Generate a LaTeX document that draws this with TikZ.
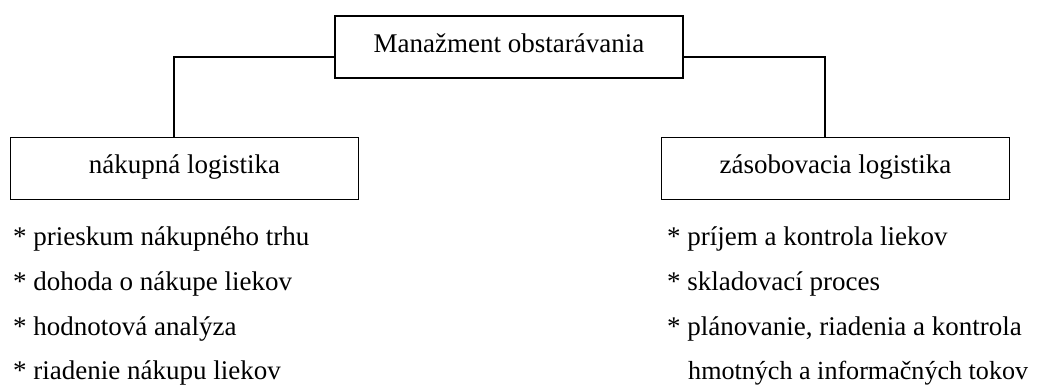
\documentclass[tikz,border=0pt]{standalone}
\usepackage{fontspec}
\setmainfont{Liberation Serif}
\usepackage{tikz}
\usetikzlibrary{calc}

\begin{document}
\begin{tikzpicture}[x=1pt, y=-1pt, every node/.style={inner sep=0pt, font=\fontsize{27}{32}\selectfont},
box/.style={draw, line width=1.8pt, minimum width=348pt, minimum height=62pt, text height=17pt, text depth=7pt},
item/.style={anchor=base west}]
\useasboundingbox (0,0) rectangle (1037,386);
\node [box] (mgmt) at (509,47) {Manažment obstarávania};
\node [box] (nakup) at (184.5,168.5) {nákupná logistika};
\node [box] (zasob) at (835.5,168.5) {zásobovacia logistika};
\draw [line width=1.4pt] ([yshift=-10pt]mgmt.west) -| ([xshift=-10.5pt]nakup.north);
\draw [line width=1.4pt] ([yshift=-10pt]mgmt.east) -| ([xshift=-10.5pt]zasob.north);
\node [item] (n1) at (13,245) {* prieskum nákupného trhu};
\node [item] (n2) at (13,290) {* dohoda o nákupe liekov};
\node [item] (n3) at (13,335) {* hodnotová analýza};
\node [item] (n4) at (13,379) {* riadenie nákupu liekov};
\node [item] (z1) at (667,245) {* príjem a kontrola liekov};
\node [item] (z2) at (667,290) {* skladovací proces};
\node [item] (z3) at (667,335) {* plánovanie, riadenia a kontrola};
\node [item, font=\fontsize{26.1}{31}\selectfont] (z4) at (688,379) {hmotných a informačných tokov};
\end{tikzpicture}
\end{document}
